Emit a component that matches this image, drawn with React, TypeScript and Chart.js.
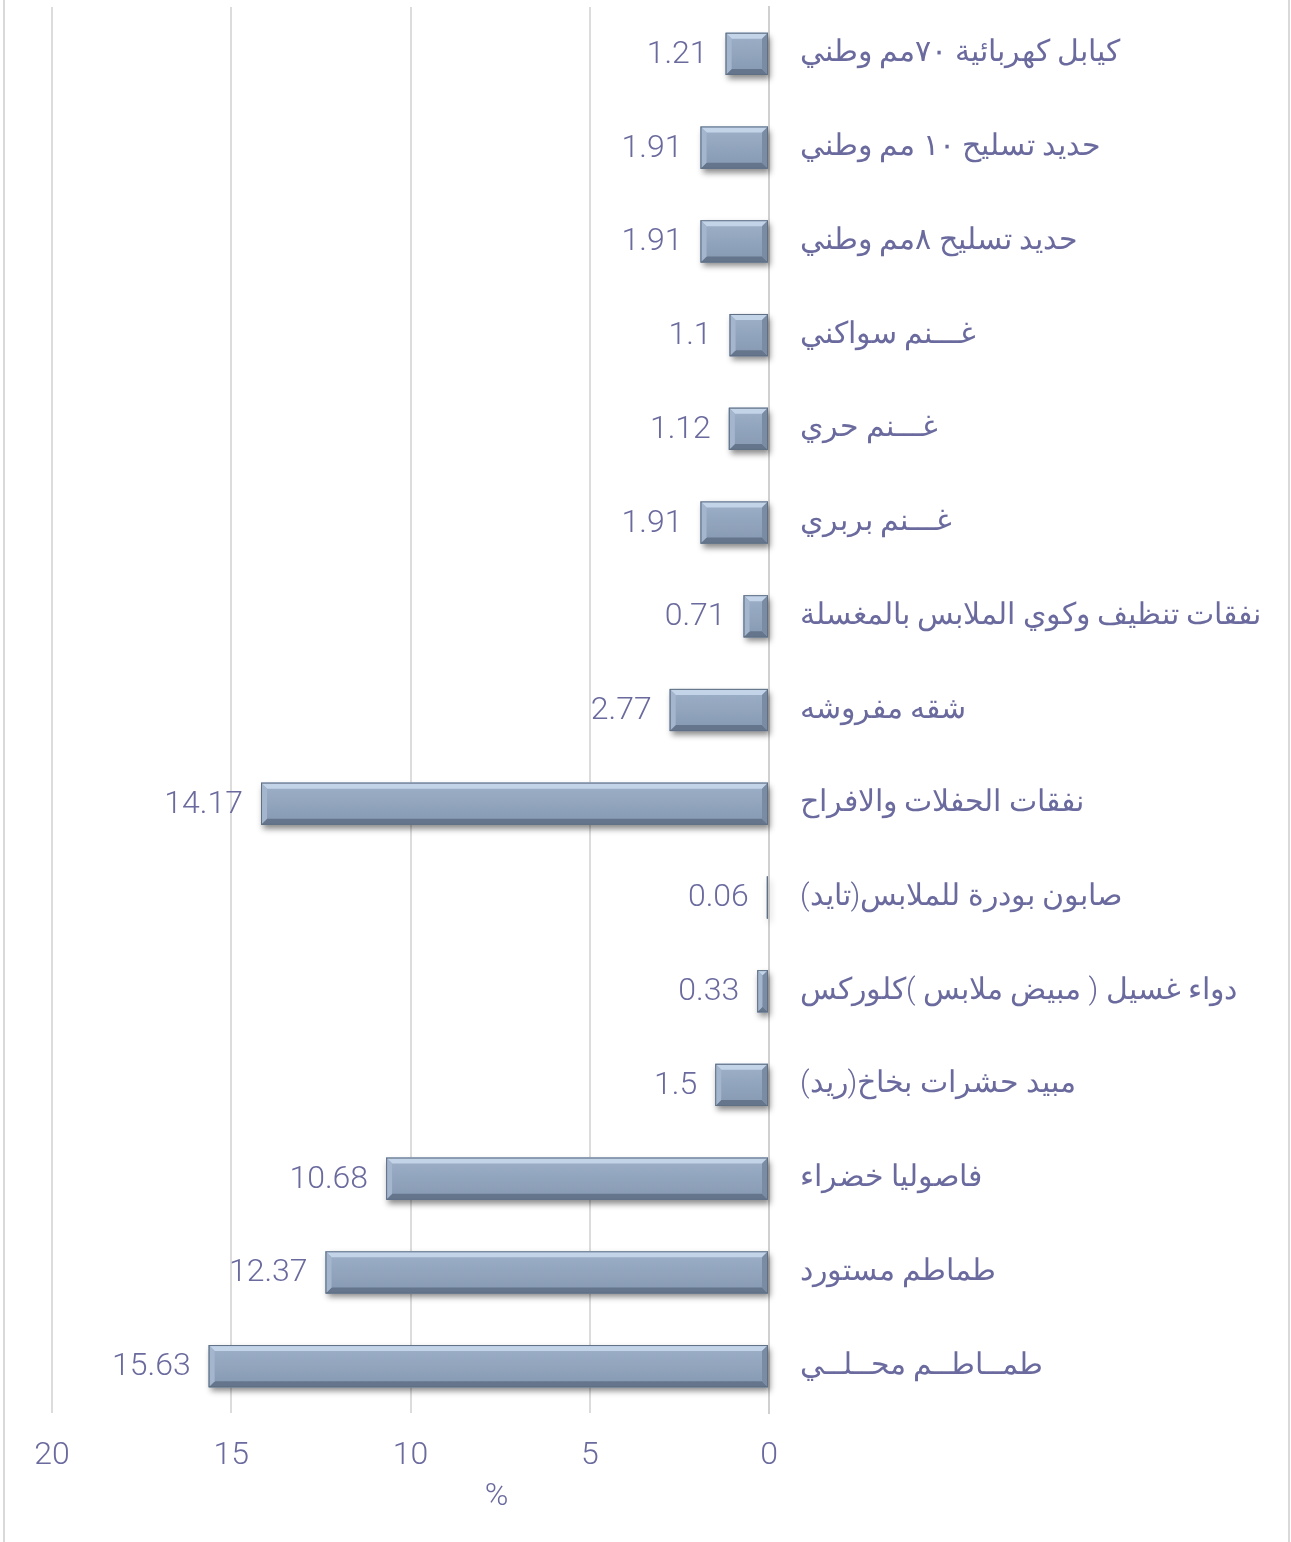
import React, { useEffect, useRef } from 'react';
import { Chart, registerables } from 'chart.js';

Chart.register(...registerables);

const categories = [
  'كيابل كهربائية ٧٠مم وطني',
  'حديد تسليح ١٠ مم وطني',
  'حديد تسليح ٨مم وطني',
  'غـــنم سواكني',
  'غـــنم حري',
  'غـــنم بربري',
  'نفقات تنظيف وكوي الملابس بالمغسلة',
  'شقه مفروشه',
  'نفقات الحفلات والافراح',
  'صابون بودرة للملابس(تايد)',
  'دواء غسيل ( مبيض ملابس )كلوركس',
  'مبيد حشرات بخاخ(ريد)',
  'فاصوليا خضراء',
  'طماطم مستورد',
  'طمــاطــم محــلــي',
];

const values = [1.21, 1.91, 1.91, 1.1, 1.12, 1.91, 0.71, 2.77, 14.17, 0.06, 0.33, 1.5, 10.68, 12.37, 15.63];

const xMin = 0;
const xMax = 20;
const xStep = 5;
const axisTitle = '%';

const TEXT = '#6a6a9e';
const BAR = '#8da0b8';
const FONT = "Roboto, 'DejaVu Sans', sans-serif";

const barRects = (chart: any) => {
  const meta = chart.getDatasetMeta(0);
  return meta.data.map((el: any, i: number) => {
    const p = el.getProps(['x', 'y', 'base', 'height'], true);
    const x0 = Math.min(p.x, p.base);
    const x1 = Math.max(p.x, p.base);
    return { x0, x1, y0: p.y - p.height / 2, y1: p.y + p.height / 2, cy: p.y, i };
  });
};

const decorPlugin = {
  id: 'decor',
  beforeDraw(chart: any) {
    const { ctx, width, height } = chart;
    ctx.save();
    ctx.strokeStyle = '#d9d9d9';
    ctx.lineWidth = 2;
    ctx.beginPath();
    ctx.moveTo(4, 0);
    ctx.lineTo(4, height);
    ctx.moveTo(width - 2, 0);
    ctx.lineTo(width - 2, height);
    ctx.stroke();
    ctx.restore();
  },
  beforeDatasetsDraw(chart: any) {
    const { ctx } = chart;
    ctx.save();
    for (const r of barRects(chart)) {
      ctx.shadowColor = 'rgba(0,0,0,0.45)';
      ctx.shadowBlur = 6;
      ctx.shadowOffsetX = 2;
      ctx.shadowOffsetY = 4;
      ctx.fillStyle = BAR;
      ctx.fillRect(r.x0, r.y0, Math.max(r.x1 - r.x0, 1), r.y1 - r.y0);
    }
    ctx.restore();
  },
  afterDatasetsDraw(chart: any) {
    const { ctx } = chart;
    ctx.save();
    for (const r of barRects(chart)) {
      const w = r.x1 - r.x0;
      const h = r.y1 - r.y0;
      if (w < 1) {
        ctx.fillStyle = '#7d8ea6';
        ctx.fillRect(r.x0 - 0.5, r.y0, 1.5, h);
        continue;
      }
      const b = Math.min(6, w / 2, h / 2);
      const g = ctx.createLinearGradient(0, r.y0, 0, r.y1);
      g.addColorStop(0, '#9db0c8');
      g.addColorStop(1, '#8699b2');
      ctx.fillStyle = g;
      ctx.fillRect(r.x0, r.y0, w, h);
      const poly = (pts: number[][], color: string) => {
        ctx.beginPath();
        ctx.moveTo(pts[0][0], pts[0][1]);
        for (let k = 1; k < pts.length; k++) ctx.lineTo(pts[k][0], pts[k][1]);
        ctx.closePath();
        ctx.fillStyle = color;
        ctx.fill();
      };
      poly([[r.x0, r.y0], [r.x1, r.y0], [r.x1 - b, r.y0 + b], [r.x0 + b, r.y0 + b]], '#c3d3e8');
      poly([[r.x0, r.y1], [r.x1, r.y1], [r.x1 - b, r.y1 - b], [r.x0 + b, r.y1 - b]], '#65758b');
      poly([[r.x0, r.y0], [r.x0 + b, r.y0 + b], [r.x0 + b, r.y1 - b], [r.x0, r.y1]], '#a4b6cd');
      poly([[r.x1, r.y0], [r.x1 - b, r.y0 + b], [r.x1 - b, r.y1 - b], [r.x1, r.y1]], '#7a8ca4');
      ctx.strokeStyle = '#5f6f84';
      ctx.lineWidth = 1;
      ctx.strokeRect(r.x0 + 0.5, r.y0 + 0.5, w - 1, h - 1);
    }
    // data labels
    ctx.fillStyle = TEXT;
    ctx.font = `300 32px ${FONT}`;
    ctx.textAlign = 'right';
    ctx.textBaseline = 'middle';
    for (const r of barRects(chart)) {
      ctx.fillText(String(values[r.i]), r.x0 - 18, r.cy + 1);
    }
    // axis title
    const xs = chart.scales.x;
    ctx.textAlign = 'center';
    ctx.fillText(axisTitle, xs.getPixelForValue(7.6), chart.chartArea.bottom + 84);
    ctx.restore();
  },
};

export default function App() {
  const ref = useRef<HTMLCanvasElement>(null);
  useEffect(() => {
    if (!ref.current) return;
    const W = 1291;
    const H = 1542;
    const chart = new Chart(ref.current, {
      type: 'bar',
      data: {
        labels: categories,
        datasets: [
          {
            data: values,
            backgroundColor: BAR,
            borderWidth: 0,
            barPercentage: 0.45,
            categoryPercentage: 1,
          },
        ],
      },
      options: {
        indexAxis: 'y',
        animation: false,
        responsive: false,
        maintainAspectRatio: false,
        layout: { padding: { left: 52, top: 7, right: 0, bottom: 0 } },
        plugins: { legend: { display: false }, tooltip: { enabled: false } },
        scales: {
          x: {
            type: 'linear',
            min: xMin,
            max: xMax,
            reverse: true,
            grid: { color: '#dcdcdc', lineWidth: 2, drawTicks: false },
            border: { display: false },
            ticks: {
              stepSize: xStep,
              color: TEXT,
              padding: 24,
              font: { family: FONT, size: 32, weight: '300' },
            },
            afterFit: (s: any) => {
              s.height = H - 1413;
              s.paddingLeft = 0;
              s.paddingRight = 0;
            },
          },
          y: {
            type: 'category',
            position: 'right',
            grid: { display: false, drawTicks: false },
            border: { display: true, color: '#d0d0d0', width: 2 },
            ticks: {
              crossAlign: 'near',
              padding: 31,
              color: TEXT,
              font: { family: FONT, size: 30, weight: '300' },
            },
            afterFit: (s: any) => {
              s.width = W - 769;
              s.paddingTop = 0;
              s.paddingBottom = 0;
            },
          },
        },
      },
      plugins: [decorPlugin],
    });
    return () => chart.destroy();
  }, []);
  return (
    <div style={{ position: 'absolute', left: 0, top: 0, width: 1291, height: 1542, background: '#fff' }}>
      <canvas ref={ref} width={1291} height={1542} style={{ display: 'block', width: 1291, height: 1542 }} />
    </div>
  );
}
